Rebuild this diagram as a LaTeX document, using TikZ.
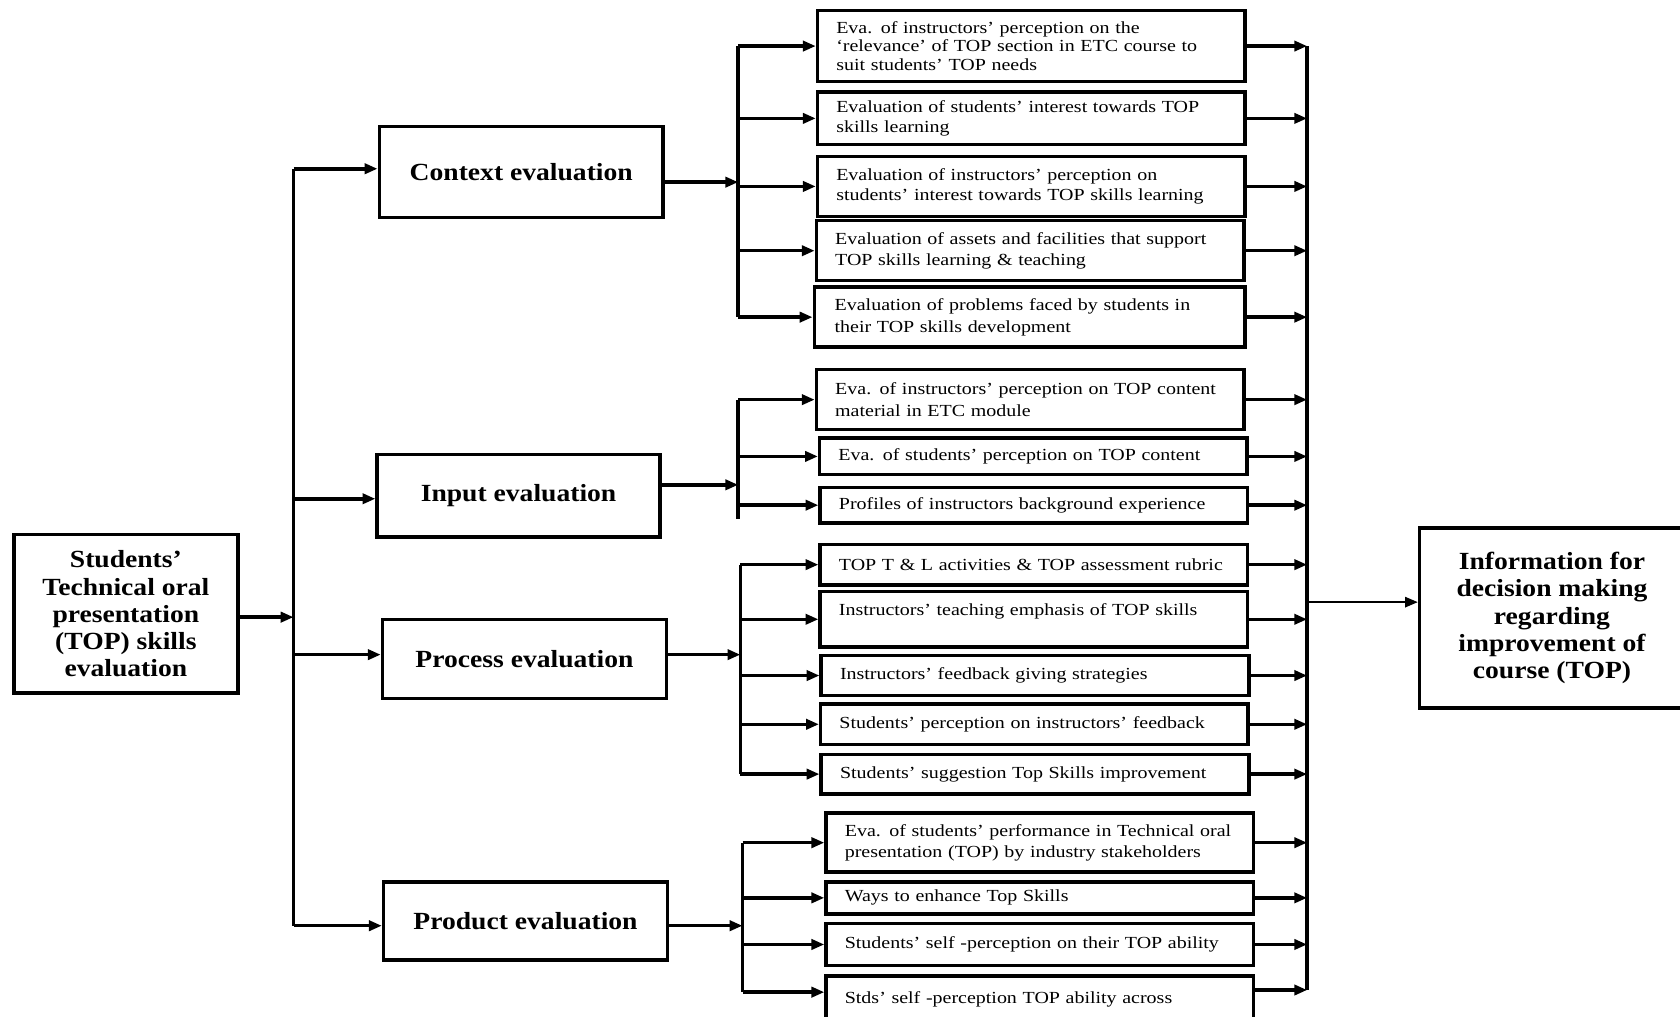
\documentclass[tikz,border=0pt]{standalone}
\usepackage{fontspec}
\setmainfont{Liberation Serif}
\newfontfamily\itemfamily[FakeStretch=1.18,WordSpace=1.6]{Liberation Serif}
\newfontfamily\headfamily[FakeStretch=1.12]{Liberation Serif}
\usetikzlibrary{arrows.meta}

\newcommand\itemfnt{\itemfamily\fontsize{15.8}{18}\selectfont}
\newcommand\headfnt{\headfamily\bfseries\fontsize{23}{25.5}\selectfont}

\begin{document}
\begin{tikzpicture}[x=1pt,y=-1pt,
  line/.style={line width=3.3pt},
  arr/.style={line, -{Triangle[length=12pt,width=9.5pt]}},
  box/.style={draw, line width=3.3pt, rectangle, inner sep=0pt},
  headbox/.style={box, align=center, font=\headfnt},
  itembox/.style={box, align=left, inner xsep=17.5pt, text width=364pt,
                  minimum width=399pt, font=\itemfnt},
]
\useasboundingbox[fill=white] (0,0) rectangle (1568,949);

% source and target
\node[headbox, minimum width=209pt, minimum height=148pt] (L) at (117.5,573)
  {Students’\\Technical oral\\presentation\\(TOP) skills\\evaluation};
\node[headbox, minimum width=247pt, minimum height=168pt] (IN) at (1448.5,577)
  {Information for\\decision making\\regarding\\improvement of\\course (TOP)};

% the four evaluation stages
\node[headbox, minimum width=265pt, minimum height=85pt] (CE) at (486.5,160.5) {Context evaluation};
\node[headbox, minimum width=264pt, minimum height=77pt] (IE) at (484,462.5) {Input evaluation};
\node[headbox, minimum width=265pt, minimum height=74pt] (PE) at (489.5,615) {Process evaluation};
\node[headbox, minimum width=265pt, minimum height=73pt] (DE) at (490.5,859.5) {Product evaluation};

% context items
\node[itembox, minimum height=66pt, font=\itemfamily\fontsize{15.8}{17}\selectfont] (C1) at (962.5,43)
  {Eva. of instructors’ perception on the\\‘relevance’ of TOP section in ETC course to\\suit students’ TOP needs};
\node[itembox, minimum height=49pt] (C2) at (962.5,110.5)
  {Evaluation of students’ interest towards TOP\\skills learning};
\node[itembox, minimum height=56pt] (C3) at (962.5,174)
  {Evaluation of instructors’ perception on\\students’ interest towards TOP skills learning};
\node[itembox, minimum height=56pt, font=\itemfamily\fontsize{15.8}{20}\selectfont] (C4) at (961.5,234)
  {Evaluation of assets and facilities that support\\TOP skills learning \& teaching};
\node[itembox, minimum height=56pt, minimum width=402pt, font=\itemfamily\fontsize{15.8}{20}\selectfont] (C5) at (961,296)
  {Evaluation of problems faced by students in\\their TOP skills development};

% input items
\node[itembox, minimum height=56pt, font=\itemfamily\fontsize{15.8}{20}\selectfont] (I1) at (961.5,373)
  {Eva. of instructors’ perception on TOP content\\material in ETC module};
\node[itembox, minimum height=34pt] (I2) at (964.5,426)
  {Eva. of students’ perception on TOP content};
\node[itembox, minimum height=33pt] (I3) at (965,471.5)
  {Profiles of instructors background experience};

% process items
\node[itembox, minimum height=38pt] (P1) at (965,527)
  {TOP T \& L activities \& TOP assessment rubric};
\node[itembox, minimum height=52pt] (P2) at (965,578)
  {Instructors’ teaching emphasis of TOP skills\\\mbox{}};
\node[itembox, minimum height=37pt] (P3) at (966,630.5)
  {Instructors’ feedback giving strategies};
\node[itembox, minimum height=38pt] (P4) at (965.5,676)
  {Students’ perception on instructors’ feedback};
\node[itembox, minimum height=37pt] (P5) at (966,722.5)
  {Students’ suggestion Top Skills improvement};

% product items
\node[itembox, minimum height=55pt, font=\itemfamily\fontsize{15.8}{20}\selectfont] (D1) at (970.5,786.5)
  {Eva. of students’ performance in Technical oral\\presentation (TOP) by industry stakeholders};
\node[itembox, minimum height=30pt] (D2) at (970.5,838)
  {Ways to enhance Top Skills};
\node[itembox, minimum height=39pt] (D3) at (970.5,881.5)
  {Students’ self -perception on their TOP ability};
\node[itembox, minimum height=44pt] (D4) at (970.5,933)
  {Stds’ self -perception TOP ability across};

% x positions of the vertical distribution lines
\coordinate (tx) at (274,0);
\coordinate (bc) at (689,0);
\coordinate (bi) at (689,0);
\coordinate (bp) at (691,0);
\coordinate (bd) at (693,0);
\coordinate (cx) at (1220,0);

% main trunk
\draw[line] ([yshift=3pt]CE.west -| tx) -- ([yshift=-4.5pt]DE.west -| tx);
\draw[arr] ([yshift=-3pt]L.east) -- ([yshift=-3pt]L.east -| tx);
\draw[arr] ([yshift=3pt]CE.west -| tx) -- ([yshift=3pt]CE.west);
\draw[arr] ([yshift=-3pt]IE.west -| tx) -- ([yshift=-3pt]IE.west);
\draw[arr] ([yshift=4pt]PE.west -| tx) -- ([yshift=4pt]PE.west);
\draw[arr] ([yshift=-4.5pt]DE.west -| tx) -- ([yshift=-4.5pt]DE.west);

% context branch
\draw[line] (C1.west -| bc) -- (C5.west -| bc);
\draw[arr] ([yshift=-9.5pt]CE.east) -- ([yshift=-9.5pt]CE.east -| bc);
\foreach \n in {C1,C2,C3,C4,C5} \draw[arr] (\n.west -| bc) -- (\n.west);

% input branch
\draw[line] (I1.west -| bi) -- ([yshift=-13pt]I3.west -| bi);
\draw[arr] ([yshift=10pt]IE.east) -- ([yshift=10pt]IE.east -| bi);
\foreach \n in {I1,I2,I3} \draw[arr] (\n.west -| bi) -- (\n.west);

% process branch
\draw[line] (P1.west -| bp) -- (P5.west -| bp);
\draw[arr] ([yshift=4pt]PE.east) -- ([yshift=4pt]PE.east -| bp);
\foreach \n in {P1,P2,P3,P4,P5} \draw[arr] (\n.west -| bp) -- (\n.west);

% product branch
\draw[line] (D1.west -| bd) -- ([yshift=7pt]D4.west -| bd);
\draw[arr] ([yshift=-4.5pt]DE.east) -- ([yshift=-4.5pt]DE.east -| bd);
\foreach \n in {D1,D2,D3} \draw[arr] (\n.west -| bd) -- (\n.west);
\draw[arr] ([yshift=7pt]D4.west -| bd) -- ([yshift=7pt]D4.west);

% collector towards the decision box
\draw[line] (C1.east -| cx) -- ([yshift=9pt]D4.east -| cx);
\foreach \n in {C1,C2,C3,C4,C5,I1,I2,I3,P1,P2,P3,P4,P5,D1,D2,D3}
  \draw[arr] (\n.east) -- (\n.east -| cx);
\draw[arr] ([yshift=9pt]D4.east) -- ([yshift=9pt]D4.east -| cx);
\draw[line width=2.2pt, -{Triangle[length=12pt,width=9.5pt]}]
  ([yshift=15pt]IN.west -| cx) -- ([yshift=15pt]IN.west);
\end{tikzpicture}
\end{document}
